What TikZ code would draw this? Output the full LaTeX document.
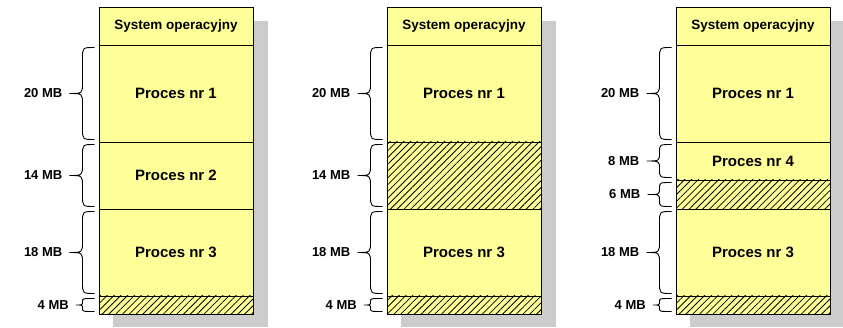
\documentclass[tikz,border=0pt]{standalone}
\usepackage{fontspec}
\setmainfont{Liberation Sans}
\usetikzlibrary{patterns.meta}
\definecolor{memyellow}{HTML}{FFFF99}
\definecolor{shadowgray}{HTML}{CCCCCC}
\tikzset{
  segbox/.style={draw=black, line width=0.9pt, fill=memyellow, inner sep=0pt,
    minimum width=154pt, font=\bfseries\fontsize{15}{17}\selectfont},
  osbox/.style={segbox, font=\bfseries\fontsize{13.5}{15}\selectfont},
  freebox/.style={segbox, postaction={pattern={Lines[angle=45,distance=4.8pt,line width=0.8pt]}, pattern color=black}},
  shadowbox/.style={fill=shadowgray, draw=none},
  bracestyle/.style={draw=black, line width=0.9pt},
  lbl/.style={font=\bfseries\fontsize{13}{15}\selectfont, inner sep=0pt, anchor=east}
}
\newcommand\memSeg[6]{% name, x-left, ytop, ybot, style, text
  \pgfmathsetmacro\sh{#4-#3}
  \pgfmathsetmacro\sy{(#3+#4)/2}
  \pgfmathsetmacro\sx{#2+77}
  \node[#5, minimum height=\sh pt] (#1) at (\sx,\sy) {#6};
}
\newcommand\memBrace[5]{% box-left x, top y, bottom y, label, name
  \pgfmathsetmacro\byA{#2+2.5}
  \pgfmathsetmacro\byB{#3-2.5}
  \pgfmathsetmacro\bh{\byB-\byA}
  \pgfmathsetmacro\bxe{#1-4.5}
  \pgfmathsetmacro\bxb{#1-16.5}
  \pgfmathsetmacro\bxt{\bxb-min(13,\bh*0.5)}
  \pgfmathsetmacro\bym{(#2+#3)/2}
  \pgfmathsetmacro\br{min(11,\bh/4)}
  \draw[bracestyle] (\bxe,\byA) .. controls (\bxb,\byA) .. (\bxb,\byA+\br)
    -- (\bxb,\bym-\br) .. controls (\bxb,\bym) .. (\bxt,\bym)
    .. controls (\bxb,\bym) .. (\bxb,\bym+\br)
    -- (\bxb,\byB-\br) .. controls (\bxb,\byB) .. (\bxe,\byB);
  \node[lbl] (#5) at (\bxt-7,\bym) {#4};
}
\begin{document}
\begin{tikzpicture}[x=1pt,y=-1pt]
\useasboundingbox (0,0) rectangle (843,328);
% shadows
\foreach \cx in {99,387,676} {
  \fill[shadowbox] (\cx+14,21) rectangle (\cx+169,327);
}
% column 1
\memSeg{osA}{99}{7}{45}{osbox}{System operacyjny}
\memSeg{pAa}{99}{45}{142}{segbox}{Proces nr 1}
\memSeg{pAb}{99}{142}{209}{segbox}{Proces nr 2}
\memSeg{pAc}{99}{209}{296}{segbox}{Proces nr 3}
\memSeg{fAa}{99}{296}{314}{freebox}{}
\memBrace{99}{45}{142}{20 MB}{lAa}
\memBrace{99}{142}{209}{14 MB}{lAb}
\memBrace{99}{209}{296}{18 MB}{lAc}
\memBrace{99}{296}{314}{4 MB}{lAd}
% column 2
\memSeg{osB}{387}{7}{45}{osbox}{System operacyjny}
\memSeg{pBa}{387}{45}{142}{segbox}{Proces nr 1}
\memSeg{fBa}{387}{142}{209}{freebox}{}
\memSeg{pBc}{387}{209}{296}{segbox}{Proces nr 3}
\memSeg{fBb}{387}{296}{314}{freebox}{}
\memBrace{387}{45}{142}{20 MB}{lBa}
\memBrace{387}{142}{209}{14 MB}{lBb}
\memBrace{387}{209}{296}{18 MB}{lBc}
\memBrace{387}{296}{314}{4 MB}{lBd}
% column 3
\memSeg{osC}{676}{7}{45}{osbox}{System operacyjny}
\memSeg{pCa}{676}{45}{142}{segbox}{Proces nr 1}
\memSeg{pCd}{676}{142}{180}{segbox}{Proces nr 4}
\memSeg{fCa}{676}{180}{209}{freebox}{}
\memSeg{pCc}{676}{209}{296}{segbox}{Proces nr 3}
\memSeg{fCb}{676}{296}{314}{freebox}{}
\memBrace{676}{45}{142}{20 MB}{lCa}
\memBrace{676}{142}{180}{8 MB}{lCb}
\memBrace{676}{180}{209}{6 MB}{lCc}
\memBrace{676}{209}{296}{18 MB}{lCd}
\memBrace{676}{296}{314}{4 MB}{lCe}
\end{tikzpicture}
\end{document}
